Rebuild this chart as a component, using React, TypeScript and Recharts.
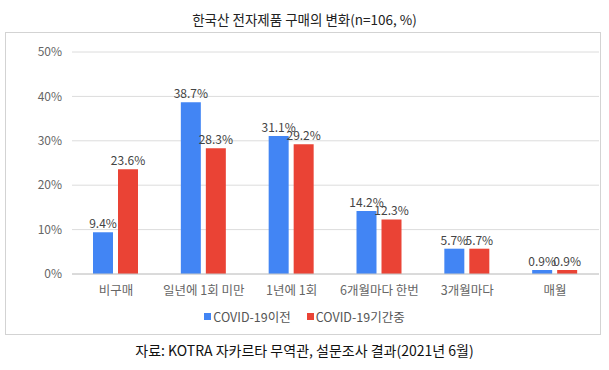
import { BarChart, Bar, XAxis, YAxis, CartesianGrid, LabelList, Legend } from "recharts";

const categories = ["비구매", "일년에 1회 미만", "1년에 1회", "6개월마다 한번", "3개월마다", "매월"];
const beforeCovid = [9.4, 38.7, 31.1, 14.2, 5.7, 0.9];
const duringCovid = [23.6, 28.3, 29.2, 12.3, 5.7, 0.9];
const yTicks = [0, 10, 20, 30, 40, 50];
const seriesNames = ["COVID-19이전", "COVID-19기간중"];

const BLUE = "#4285f4";
const RED = "#ea4335";
const FONT = "'Noto Sans CJK KR', 'Noto Sans', sans-serif";

const data = categories.map((name, i) => ({
  name,
  before: beforeCovid[i],
  during: duringCovid[i],
}));

function LegendContent() {
  const items = [
    { label: seriesNames[0], color: BLUE },
    { label: seriesNames[1], color: RED },
  ];
  return (
    <div style={{ display: "flex", justifyContent: "center", gap: 16, fontFamily: FONT, fontSize: 12.5, color: "#555" }}>
      {items.map((it) => (
        <span key={it.label} style={{ display: "inline-flex", alignItems: "center" }}>
          <span style={{ display: "inline-block", width: 7, height: 7, background: it.color, marginRight: 2 }} />
          {it.label}
        </span>
      ))}
    </div>
  );
}

export default function App() {
  return (
    <div style={{ position: "absolute", left: 0, top: 0, width: 609, height: 370, background: "#fff", fontFamily: FONT }}>
      <div style={{ position: "absolute", left: 0, top: 9, width: 609, textAlign: "center", fontSize: 13.5, color: "#222" }}>
        한국산 전자제품 구매의 변화(n=106, %)
      </div>
      <div style={{ position: "absolute", left: 5, top: 32, width: 594, height: 301, border: "1px solid #d3d3d3" }} />
      <div style={{ position: "absolute", left: 0, top: 340, width: 609, textAlign: "center", fontSize: 14, color: "#111" }}>
        자료: KOTRA 자카르타 무역관, 설문조사 결과(2021년 6월)
      </div>
      <div style={{ position: "absolute", left: 0, top: 0 }}>
        <BarChart
          width={609}
          height={370}
          data={data}
          margin={{ top: 52, right: 10, left: 12, bottom: 66 }}
          barSize={20}
          barGap={5}
        >
          <CartesianGrid vertical={false} stroke="#dcdcdc" />
          <XAxis
            dataKey="name"
            tickLine={false}
            axisLine={{ stroke: "#c8c8c8" }}
            tickMargin={6}
            height={30}
            interval={0}
            tick={{ fill: "#666", fontSize: 12.5, fontFamily: FONT }}
          />
          <YAxis
            domain={[0, 50]}
            ticks={yTicks}
            tickFormatter={(v) => `${v}%`}
            tickLine={false}
            axisLine={false}
            width={60}
            tickMargin={4}
            tick={{ fill: "#666", fontSize: 12, fontFamily: FONT }}
          />
          <Legend
            layout="horizontal"
            verticalAlign="middle"
            align="center"
            content={<LegendContent />}
            wrapperStyle={{ top: 307, left: 0, width: 609 }}
          />
          <Bar dataKey="before" name={seriesNames[0]} fill={BLUE} isAnimationActive={false}>
            <LabelList dataKey="before" position="top" offset={4} formatter={(v) => `${v}%`} style={{ fill: "#444", fontSize: 12, fontFamily: FONT }} />
          </Bar>
          <Bar dataKey="during" name={seriesNames[1]} fill={RED} isAnimationActive={false}>
            <LabelList dataKey="during" position="top" offset={4} formatter={(v) => `${v}%`} style={{ fill: "#444", fontSize: 12, fontFamily: FONT }} />
          </Bar>
        </BarChart>
      </div>
    </div>
  );
}
